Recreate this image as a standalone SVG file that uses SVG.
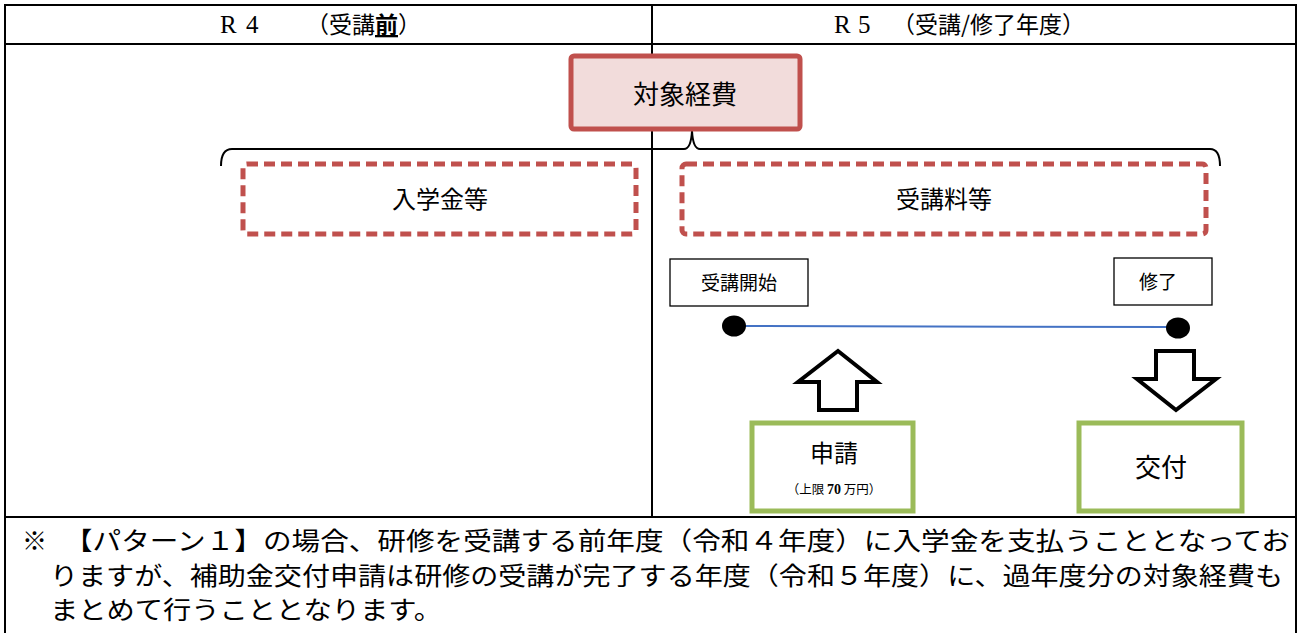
<svg xmlns="http://www.w3.org/2000/svg" width="1300" height="633" viewBox="0 0 1300 633">
<style>
.t{font-family:"Noto Sans CJK JP","Noto Sans",sans-serif;fill:#000}
.grid{stroke:#000;stroke-width:2;fill:none}
.dash{fill:#fff;stroke:#C0504D;stroke-width:5;stroke-dasharray:11 6}
.green{fill:#fff;stroke:#9BBB59;stroke-width:5}
.lbl{fill:#fff;stroke:#000;stroke-width:1.3}
.arrow{fill:#fff;stroke:#000;stroke-width:4;stroke-linejoin:miter}
.lat{font-family:"Liberation Serif",serif}
</style>
<rect width="1300" height="633" fill="#fff"/>
<g id="table">
<rect class="grid" x="5" y="5" width="1291" height="640"/>
<line class="grid" x1="5" y1="44" x2="1296" y2="44"/>
<line class="grid" x1="652" y1="5" x2="652" y2="517"/>
<line class="grid" x1="5" y1="517" x2="1296" y2="517"/>
</g>
<g id="header-r4">
<text class="t" font-size="23" y="33"><tspan x="220" class="lat" font-size="25">R</tspan><tspan x="246" class="lat" font-size="25">4</tspan><tspan x="306">（受講</tspan><tspan font-weight="bold" text-decoration="underline">前</tspan><tspan>）</tspan></text>
</g>
<g id="header-r5">
<text class="t" font-size="23" y="33"><tspan x="834" class="lat" font-size="25">R</tspan><tspan x="858" class="lat" font-size="25">5</tspan><tspan x="892">（受講/修了年度）</tspan></text>
</g>
<g id="connectors">
<path d="M221,166 Q221,149 232,149 L684,149 Q691,149 692,131 Q693,149 700,149 L1210,149 Q1220,149 1220,166" fill="none" stroke="#000" stroke-width="2"/>
<line x1="735" y1="326" x2="1170" y2="327" stroke="#4472C4" stroke-width="2"/>
</g>
<g id="taishou">
<rect x="571" y="56" width="229" height="73" rx="3" fill="#F2DCDB" stroke="#C0504D" stroke-width="5"/>
<text class="t" x="685" y="104" font-size="26" text-anchor="middle">対象経費</text>
</g>
<g id="nyugakukin">
<rect class="dash" x="243" y="164" width="393" height="70" rx="4"/>
<text class="t" x="440" y="208" font-size="24" text-anchor="middle">入学金等</text>
</g>
<g id="jukouryou">
<rect class="dash" x="682" y="164" width="524" height="70" rx="4"/>
<text class="t" x="944" y="208" font-size="24" text-anchor="middle">受講料等</text>
</g>
<g id="kaishi">
<rect class="lbl" x="670" y="259" width="138" height="47"/>
<text class="t" x="739" y="290" font-size="19" text-anchor="middle">受講開始</text>
</g>
<g id="shuryo">
<rect class="lbl" x="1114" y="258" width="98" height="47"/>
<text class="t" x="1158" y="289" font-size="19" text-anchor="middle">修了</text>
</g>
<g id="dots">
<ellipse cx="734" cy="326" rx="12" ry="10.5" fill="#000"/>
<ellipse cx="1178" cy="328" rx="12" ry="10.5" fill="#000"/>
</g>
<g id="up-arrow">
<polygon class="arrow" points="838,351 877,382 857,382 857,410 819,410 819,382 798,382"/>
</g>
<g id="down-arrow">
<polygon class="arrow" points="1156,351 1194,351 1194,379 1216,379 1176,410 1137,379 1156,379"/>
</g>
<g id="shinsei">
<rect class="green" x="752" y="423" width="161" height="88"/>
<text class="t" x="834" y="462" font-size="24" text-anchor="middle">申請</text>
<text class="t" x="834" y="494" font-size="12.5" text-anchor="middle">（上限 <tspan font-weight="bold" class="lat" font-size="14">70</tspan> 万円）</text>
</g>
<g id="koufu">
<rect class="green" x="1079" y="423" width="163" height="88"/>
<text class="t" x="1161" y="477" font-size="26" text-anchor="middle">交付</text>
</g>
<g id="note">
<text class="t" font-size="25" y="550"><tspan x="22">※</tspan><tspan x="64" textLength="1226" lengthAdjust="spacingAndGlyphs">【パターン１】の場合、研修を受講する前年度（令和４年度）に入学金を支払うこととなってお</tspan></text>
<text class="t" font-size="25" x="50" y="585" textLength="1233" lengthAdjust="spacingAndGlyphs">りますが、補助金交付申請は研修の受講が完了する年度（令和５年度）に、過年度分の対象経費も</text>
<text class="t" font-size="25" x="50" y="619" textLength="392" lengthAdjust="spacingAndGlyphs">まとめて行うこととなります。</text>
</g>
</svg>
